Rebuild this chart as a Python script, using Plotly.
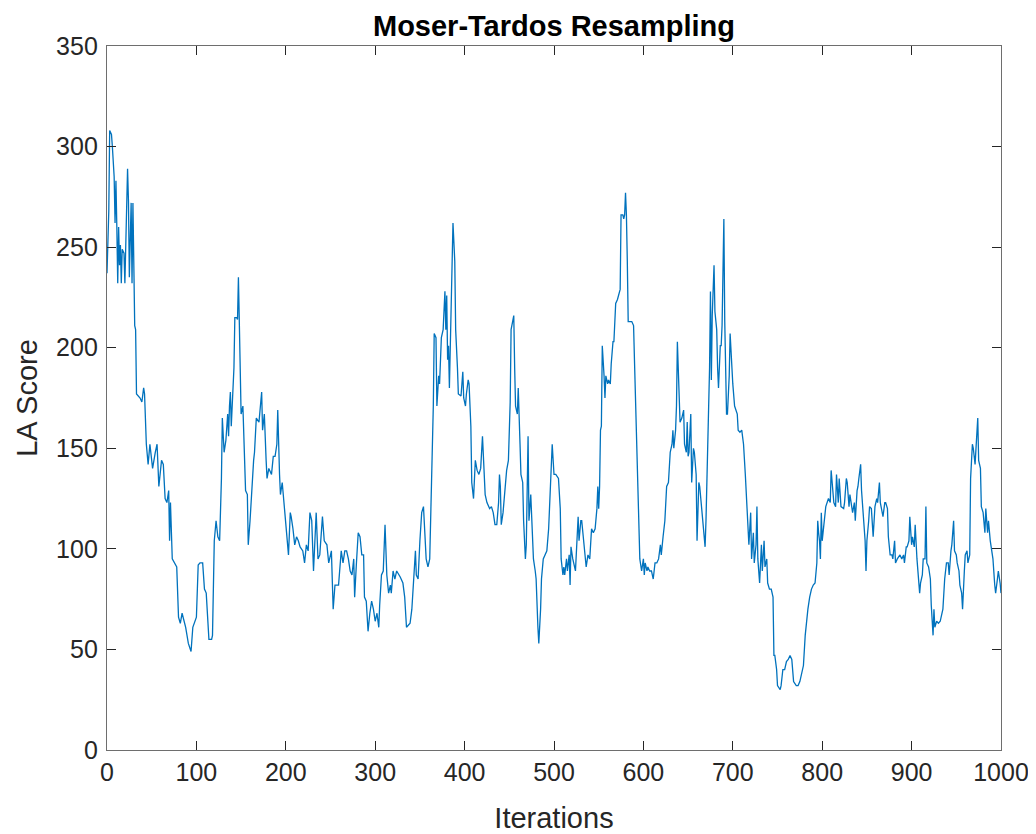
import plotly.graph_objects as go

iterations = [
    0, 2, 3, 5, 6, 8, 9, 10, 11, 12, 13, 14, 15, 16, 17, 19, 20, 22, 23, 24, 25, 27, 28, 29, 30, 31, 32, 33, 37, 39,
    41, 42, 44, 46, 48, 51, 54, 56, 58, 61, 63, 65, 67, 69, 70, 71, 73, 76, 78, 80, 82, 84, 85, 88, 91, 94, 96, 98,
    100, 102, 104, 107, 109, 111, 114, 117, 118, 120, 122, 124, 126, 128, 129, 131, 133, 135, 136, 137, 138, 139,
    141, 142, 143, 145, 146, 147, 148, 149, 150, 152, 153, 155, 157, 158, 160, 162, 164, 165, 167, 170, 173, 174,
    176, 178, 179, 181, 184, 186, 188, 190, 191, 193, 194, 196, 198, 200, 202, 203, 205, 206, 208, 210, 212, 214,
    216, 219, 221, 223, 225, 227, 229, 230, 231, 234, 235, 236, 238, 241, 243, 246, 248,
    251, 253, 255, 259, 261, 262, 264, 266, 268, 270, 272, 274, 276, 277, 279, 281, 283, 285, 287, 288, 290, 292,
    294, 296, 298, 300, 302, 304, 305, 307, 309, 311, 313, 315, 317, 318, 320, 322, 324, 328, 331, 333, 335, 339,
    341, 343, 345, 346, 348, 350, 352, 354, 356, 357, 359, 361, 363, 365, 366, 368, 369, 371, 372, 374, 376, 378,
    379, 380, 381, 382, 383, 384, 385, 387, 389, 390, 392, 393, 396, 398, 399, 401, 402, 404, 405, 407, 408, 410,
    412, 414, 416, 418, 420, 422, 423, 425, 427, 428, 430, 432, 434, 436, 438, 439, 440, 441, 443, 445, 447, 449,
    451, 452, 454, 455, 456, 457, 459, 460, 462, 463, 465, 466, 468, 469, 471, 472, 474, 475, 477, 479, 480, 482,
    483, 485, 486, 488, 490, 492, 494, 495, 497, 498, 500, 502, 505, 507, 508, 510, 511, 512, 514, 515, 517, 518,
    519, 521, 524, 526, 527, 528, 530, 531, 533, 535, 536, 538, 540, 542, 544, 546, 548, 549, 550, 551, 552, 553,
    554, 556, 557, 558, 560, 561, 563, 564, 566, 567, 569, 571, 572, 574, 575, 577, 578, 579, 580, 581, 582, 583,
    587, 589, 590, 591, 592, 594, 596, 598, 600, 601, 602, 604, 605, 607, 609, 611, 613, 615, 617, 619, 620, 622,
    624, 626, 628, 630, 632, 633, 634, 636, 637, 638, 640, 641, 643, 645, 646, 648, 649, 650, 651, 653, 654, 656,
    657, 659, 660, 662, 663, 665, 666, 669, 670, 671, 673, 674, 675, 676, 677, 679, 680, 682, 683, 684, 686, 687,
    688, 690, 691, 693, 694, 696, 697, 699, 700, 702, 705, 706, 708, 710, 712, 714, 715, 717, 718, 720, 721, 723,
    724, 726, 727, 728, 730, 732, 733, 735, 736, 738, 739, 741, 743, 745, 746, 747, 749, 750, 753, 754, 756, 758,
    760, 762, 764, 766, 767, 768, 771, 773, 775, 777, 779, 781, 783, 784, 786, 788, 790, 792, 794, 795, 796, 797,
    798, 799, 800, 802, 804, 807, 809, 810, 812, 813, 815, 816, 818, 819, 821, 824, 825, 827, 828, 830, 831, 833,
    834, 836, 837, 839, 840, 841, 843, 844, 846, 848, 849, 850, 852, 853, 855, 857, 859, 861, 862, 864, 865, 866,
    868, 870, 871, 873, 874, 876, 878, 879, 881, 882, 884, 887, 889, 891, 892, 894, 895, 897, 898, 900, 901, 903,
    904, 906, 907, 909, 910, 912, 913, 915, 916, 917, 919, 921, 922, 924, 925, 926, 928, 930, 932, 934, 935, 937,
    939, 941, 942, 944, 945, 947, 948, 950, 951, 953, 954, 956, 957, 959, 960, 962, 963, 965, 966, 968, 969, 971,
    972, 974, 975, 977, 978, 980, 982, 983, 985, 986, 988, 990, 991, 993, 994, 996, 997, 999, 1000,
]

la_score = [
    237, 268, 308, 306, 300, 285, 262, 283, 260, 232, 260, 241, 251, 232, 249, 247, 232, 273, 289, 273, 235, 272, 232, 272, 232, 211, 209, 177, 175, 173,
    180, 177, 152, 142, 152, 140, 148, 152, 131, 144, 142, 125, 123, 129, 104, 123, 95, 93, 91, 66, 63, 68, 66, 61, 53, 49, 61, 64,
    66, 92, 93, 93, 80, 78, 55, 55, 57, 104, 114, 106, 104, 135, 165, 148, 154, 167, 156, 171, 178, 161,
    178, 190, 215, 215, 214, 235, 213, 182, 167, 171, 156, 129, 127, 102, 114, 131, 144, 148, 165, 163, 178, 159,
    167, 144, 135, 140, 137, 146, 146, 152, 169, 137, 127, 133, 123, 116, 104, 97, 118, 116, 110, 102, 106, 104,
    101, 99, 93, 102, 99, 118, 114, 104, 89, 118, 104, 95, 97, 116, 104, 102, 93,
    99, 70, 82, 82, 93, 99, 93, 99, 99, 95, 89, 87, 95, 76, 93, 108, 106, 97, 97, 76, 74, 59,
    68, 74, 70, 64, 68, 61, 72, 87, 89, 112, 87, 78, 82, 78, 89, 85, 89, 86, 83, 76, 61, 63,
    70, 82, 99, 87, 85, 104, 118, 121, 104, 95, 91, 95, 133, 171, 207, 205, 171, 186, 182, 205, 209, 228,
    209, 226, 194, 201, 180, 199, 209, 262, 243, 209, 190, 177, 176, 188, 175, 171, 177, 184, 182, 161, 133, 125,
    144, 139, 137, 140, 156, 140, 127, 123, 121, 120, 121, 118, 112, 112, 123, 137, 131, 112, 118, 129, 139, 144,
    173, 209, 213, 216, 190, 171, 167, 180, 152, 137, 133, 114, 95, 102, 156, 114, 127, 114, 95, 89, 85, 61,
    53, 70, 85, 95, 97, 99, 110, 121, 135, 152, 137, 137, 135, 120, 95, 87, 91, 87, 95, 89, 97, 82,
    101, 95, 89, 104, 116, 104, 114, 114, 104, 95, 91, 97, 95, 110, 108, 110, 120, 131, 120, 131, 159, 161,
    201, 186, 175, 186, 182, 184, 182, 192, 203, 203, 222, 224, 226, 229, 266, 266, 264, 266, 277, 266, 243, 213,
    213, 211, 194, 175, 171, 125, 95, 89, 95, 87, 93, 89, 91, 89, 89, 85, 93, 93, 95, 102, 97, 106,
    114, 131, 133, 148, 152, 159, 150, 159, 171, 203, 171, 163, 165, 169, 152, 148, 163, 146, 148, 167, 133, 150,
    148, 137, 104, 133, 131, 120, 114, 101, 114, 133, 159, 190, 228, 184, 216, 241, 218, 209, 190, 180, 201, 201,
    211, 264, 213, 167, 167, 186, 207, 186, 182, 171, 167, 159, 158, 159, 152, 137, 129, 114, 102, 118, 95, 108,
    93, 102, 121, 95, 83, 102, 89, 104, 91, 95, 83, 80, 80, 76, 47, 47, 40, 32, 30, 32, 40, 40,
    44, 45, 47, 45, 38, 34, 32, 32, 34, 38, 42, 57, 68, 70, 76, 80, 82, 83, 93, 114, 108, 104,
    95, 118, 104, 114, 121, 125, 123, 139, 127, 123, 121, 137, 123, 135, 121, 120, 123, 135, 133, 121, 127, 120,
    118, 123, 114, 129, 131, 135, 142, 129, 118, 104, 89, 104, 114, 121, 120, 106, 121, 125, 123, 133, 123, 121,
    116, 123, 123, 120, 106, 97, 97, 95, 104, 93, 95, 97, 95, 97, 93, 101, 101, 104, 116, 102, 106, 101,
    112, 95, 89, 78, 83, 87, 95, 95, 121, 93, 91, 85, 72, 57, 70, 61, 64, 63, 64, 68, 70, 85,
    93, 93, 87, 99, 102, 114, 99, 97, 93, 89, 82, 78, 70, 89, 97, 99, 93, 97, 135, 152, 150, 142,
    150, 165, 144, 140, 121, 118, 108, 120, 108, 114, 104, 99, 95, 82, 78, 85, 89, 83, 78,
]

FONT = "Liberation Sans, Arial, Helvetica, sans-serif"
FRAME_COLOR = "#6e6e6e"
TEXT_COLOR = "#262626"

# The page body has an 8px default margin, so the figure is sized to fit
# inside the 1036x834 window with the plot area at the reference position.
FIG_W, FIG_H = 1028, 826

fig = go.Figure()
fig.add_trace(go.Scatter(
    x=iterations, y=la_score, mode="lines",
    line=dict(color="#0072BD", width=1.3),
    showlegend=False, hoverinfo="x+y",
))

axis_common = dict(
    showgrid=False, zeroline=False,
    showline=True, linecolor=FRAME_COLOR, linewidth=1.4, mirror="ticks",
    ticks="inside", ticklen=9, tickwidth=1, tickcolor=TEXT_COLOR,
    tickfont=dict(family=FONT, size=25, color=TEXT_COLOR),
)

fig.update_layout(
    width=FIG_W, height=FIG_H,
    paper_bgcolor="white", plot_bgcolor="white",
    margin=dict(l=99, r=35, t=38, b=84, autoexpand=False),
    title=dict(
        text="<b>Moser-Tardos Resampling</b>",
        x=(99 + FIG_W - 35) / 2 / FIG_W, xanchor="center",
        y=1 - 18 / FIG_H, yanchor="middle",
        font=dict(family=FONT, size=29, color="#000000"),
    ),
    xaxis=dict(
        range=[0, 1000], tickmode="array",
        tickvals=list(range(0, 1001, 100)),
        title=dict(text="Iterations", standoff=24,
                   font=dict(family=FONT, size=29, color=TEXT_COLOR)),
        **axis_common,
    ),
    yaxis=dict(
        range=[0, 350], tickmode="array",
        tickvals=list(range(0, 351, 50)),
        ticklabelstandoff=3,
        title=dict(text="LA Score", standoff=9,
                   font=dict(family=FONT, size=29, color=TEXT_COLOR)),
        **axis_common,
    ),
)

fig.write_html("out.html")
